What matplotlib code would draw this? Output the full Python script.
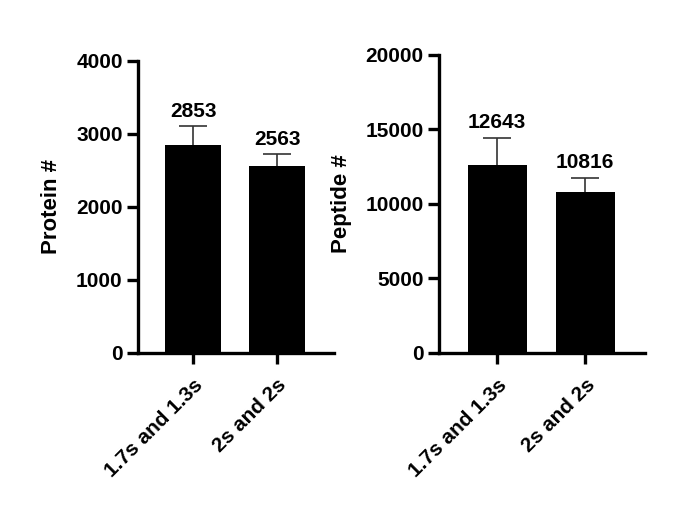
import matplotlib
matplotlib.use("Agg")
import matplotlib.pyplot as plt

plt.rcParams['font.family'] = ['Liberation Sans', 'DejaVu Sans']
plt.rcParams['font.weight'] = 'bold'

# data
groups = ['1.7s and 1.3s', '2s and 2s']
protein_mean = [2853, 2563]
protein_err = [250, 160]
peptide_mean = [12643, 10816]
peptide_err = [1810, 950]

fig = plt.figure(figsize=(6.77, 5.21), dpi=100)
ax1 = fig.add_axes([0.2038, 0.3225, 0.2895, 0.5605])
ax2 = fig.add_axes([0.6484, 0.3225, 0.3043, 0.572])


def draw_panel(ax, means, errs, ylabel, ymax, step):
    x = list(range(len(groups)))
    ax.bar(x, means, width=0.67, color='black', zorder=2)
    eb = ax.errorbar(x, means, yerr=[[0] * len(errs), errs], fmt='none',
                     ecolor='#333333', elinewidth=1.2, capsize=10, capthick=1.2, zorder=3)
    eb[1][0].set_visible(False)  # no cap on the lower side
    for xi, m, e in zip(x, means, errs):
        ax.annotate(str(m), (xi, m + e), xytext=(0, 4), textcoords='offset points',
                    ha='center', va='bottom', fontsize=15, fontweight='bold')
    ax.set_xlim(-0.66, 1.68)
    ax.set_ylim(0, ymax)
    ax.set_yticks(range(0, ymax + 1, step))
    ax.set_xticks(x)
    ax.set_xticklabels(groups, rotation=45, ha='right', rotation_mode='anchor')
    ax.set_ylabel(ylabel, fontsize=16, fontweight='bold', labelpad=10)
    for s in ['top', 'right']:
        ax.spines[s].set_visible(False)
    for s in ['left', 'bottom']:
        ax.spines[s].set_linewidth(2.4)
    ax.tick_params(axis='both', width=2.4, length=8, labelsize=15, pad=3)
    ax.tick_params(axis='x', pad=8)
    for lab in ax.get_xticklabels() + ax.get_yticklabels():
        lab.set_fontweight('bold')


draw_panel(ax1, protein_mean, protein_err, 'Protein #', 4000, 1000)
draw_panel(ax2, peptide_mean, peptide_err, 'Peptide #', 20000, 5000)

fig.savefig('out.png', dpi=100)
